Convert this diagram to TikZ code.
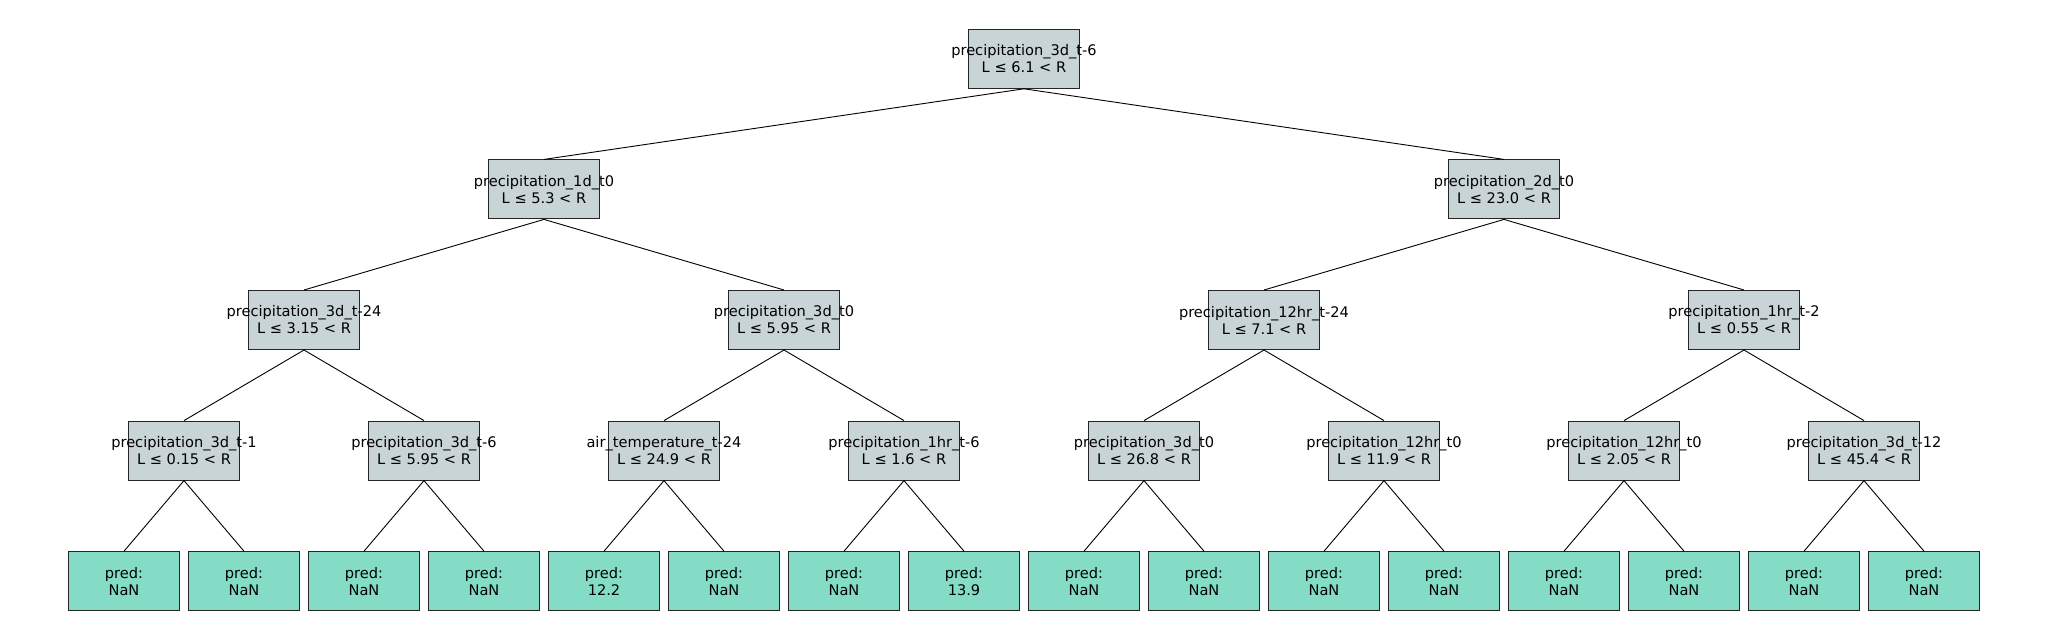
\documentclass[tikz,border=0pt]{standalone}
\usepackage{fontspec}
\setmainfont{DejaVu Sans}
\definecolor{ifill}{RGB}{200,212,214}
\definecolor{lfill}{RGB}{132,220,198}
\begin{document}
\begin{tikzpicture}[x=1pt,y=-1pt,
  ibox/.style={draw=black!85,line width=1pt,fill=ifill,minimum width=111pt,minimum height=59pt,inner sep=0pt},
  lbox/.style={draw=black!85,line width=1pt,fill=lfill,minimum width=111pt,minimum height=59pt,inner sep=0pt},
  ntext/.style={align=center,inner sep=0pt,font=\fontsize{14.6}{17}\selectfont},
  edge/.style={draw=black,line width=0.9pt}]
\useasboundingbox[fill=white] (0,0) rectangle (2048,640);
\newcommand\tnode[5]{\node[ibox] (#1) at (#2,#3) {}; \node[ntext] (#1t) at (#1) {#4\\#5};}
\newcommand\lnode[4]{\node[lbox] (#1) at (#2,#3) {}; \node[ntext] (#1t) at (#1) {pred:\\#4};}
% root
\tnode{r}{1024}{58.8}{precipitation\_3d\_t-6}{L ≤ 6.1 < R}
% level 1
\tnode{a}{544}{189.4}{precipitation\_1d\_t0}{L ≤ 5.3 < R}
\tnode{b}{1504}{189.4}{precipitation\_2d\_t0}{L ≤ 23.0 < R}
% level 2
\tnode{aa}{304}{320}{precipitation\_3d\_t-24}{L ≤ 3.15 < R}
\tnode{ab}{784}{320}{precipitation\_3d\_t0}{L ≤ 5.95 < R}
\tnode{ba}{1264}{320}{precipitation\_12hr\_t-24}{L ≤ 7.1 < R}
\tnode{bb}{1744}{320}{precipitation\_1hr\_t-2}{L ≤ 0.55 < R}
% level 3
\tnode{aaa}{184}{450.6}{precipitation\_3d\_t-1}{L ≤ 0.15 < R}
\tnode{aab}{424}{450.6}{precipitation\_3d\_t-6}{L ≤ 5.95 < R}
\tnode{aba}{664}{450.6}{air\_temperature\_t-24}{L ≤ 24.9 < R}
\tnode{abb}{904}{450.6}{precipitation\_1hr\_t-6}{L ≤ 1.6 < R}
\tnode{baa}{1144}{450.6}{precipitation\_3d\_t0}{L ≤ 26.8 < R}
\tnode{bab}{1384}{450.6}{precipitation\_12hr\_t0}{L ≤ 11.9 < R}
\tnode{bba}{1624}{450.6}{precipitation\_12hr\_t0}{L ≤ 2.05 < R}
\tnode{bbb}{1864}{450.6}{precipitation\_3d\_t-12}{L ≤ 45.4 < R}
% leaves
\lnode{l0}{124}{581.2}{NaN}
\lnode{l1}{244}{581.2}{NaN}
\lnode{l2}{364}{581.2}{NaN}
\lnode{l3}{484}{581.2}{NaN}
\lnode{l4}{604}{581.2}{12.2}
\lnode{l5}{724}{581.2}{NaN}
\lnode{l6}{844}{581.2}{NaN}
\lnode{l7}{964}{581.2}{13.9}
\lnode{l8}{1084}{581.2}{NaN}
\lnode{l9}{1204}{581.2}{NaN}
\lnode{l10}{1324}{581.2}{NaN}
\lnode{l11}{1444}{581.2}{NaN}
\lnode{l12}{1564}{581.2}{NaN}
\lnode{l13}{1684}{581.2}{NaN}
\lnode{l14}{1804}{581.2}{NaN}
\lnode{l15}{1924}{581.2}{NaN}
% edges
\begin{scope}[on background layer/.style={}]
\foreach \p/\c in {r/a,r/b,a/aa,a/ab,b/ba,b/bb,aa/aaa,aa/aab,ab/aba,ab/abb,ba/baa,ba/bab,bb/bba,bb/bbb,
  aaa/l0,aaa/l1,aab/l2,aab/l3,aba/l4,aba/l5,abb/l6,abb/l7,baa/l8,baa/l9,bab/l10,bab/l11,bba/l12,bba/l13,bbb/l14,bbb/l15}
  \draw[edge] (\p.south) -- (\c.north);
\end{scope}
\end{tikzpicture}
\end{document}
